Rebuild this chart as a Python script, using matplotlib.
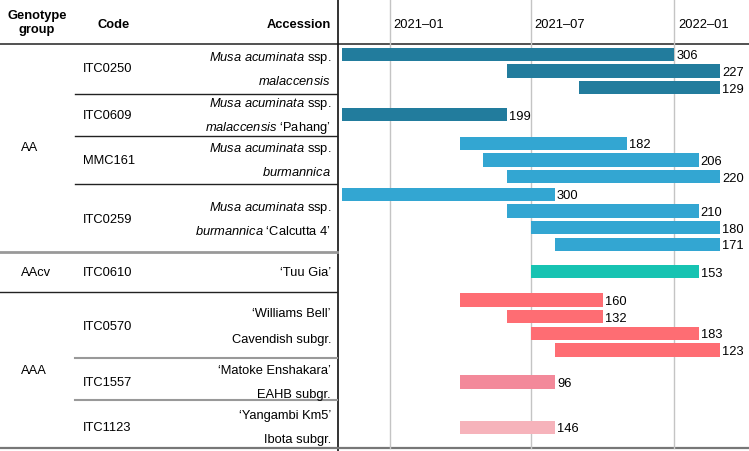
import matplotlib
matplotlib.use('Agg')
import matplotlib.pyplot as plt
import matplotlib.dates as mdates
from matplotlib.transforms import ScaledTranslation
import numpy as np

plt.rcParams['font.family'] = ['Liberation Sans', 'DejaVu Sans']
plt.rcParams['mathtext.fontset'] = 'custom'
plt.rcParams['mathtext.rm'] = 'Liberation Sans'
plt.rcParams['mathtext.it'] = 'Liberation Sans:italic'
plt.rcParams['mathtext.bf'] = 'Liberation Sans:bold'

# ---------------- data ----------------
group_names = ['AA', 'AAcv', 'AAA']
codes = ['ITC0250', 'ITC0609', 'MMC161', 'ITC0259', 'ITC0610', 'ITC0570', 'ITC1557', 'ITC1123']
code_group = ['AA', 'AA', 'AA', 'AA', 'AAcv', 'AAA', 'AAA', 'AAA']
accession_line1 = [r'$\mathit{Musa\ acuminata}$ ssp.',
                   r'$\mathit{Musa\ acuminata}$ ssp.',
                   r'$\mathit{Musa\ acuminata}$ ssp.',
                   r'$\mathit{Musa\ acuminata}$ ssp.',
                   '‘Tuu Gia’',
                   '‘Williams Bell’',
                   '‘Matoke Enshakara’',
                   '‘Yangambi Km5’']
accession_line2 = [r'$\mathit{malaccensis}$',
                   r'$\mathit{malaccensis}$ ‘Pahang’',
                   r'$\mathit{burmannica}$',
                   r'$\mathit{burmannica}$ ‘Calcutta 4’',
                   '',
                   'Cavendish subgr.',
                   'EAHB subgr.',
                   'Ibota subgr.']

bar_code = (['ITC0250'] * 3 + ['ITC0609'] + ['MMC161'] * 3 + ['ITC0259'] * 4 +
            ['ITC0610'] + ['ITC0570'] * 4 + ['ITC1557'] + ['ITC1123'])
bar_start = ['2020-11-01', '2021-06-01', '2021-09-01',
             '2020-11-01',
             '2021-04-01', '2021-05-01', '2021-06-01',
             '2020-11-01', '2021-06-01', '2021-07-01', '2021-08-01',
             '2021-07-01',
             '2021-04-01', '2021-06-01', '2021-07-01', '2021-08-01',
             '2021-04-01',
             '2021-04-01']
bar_end = ['2022-01-01', '2022-03-01', '2022-03-01',
           '2021-06-01',
           '2021-11-01', '2022-02-01', '2022-03-01',
           '2021-08-01', '2022-02-01', '2022-03-01', '2022-03-01',
           '2022-02-01',
           '2021-10-01', '2021-10-01', '2022-02-01', '2022-03-01',
           '2021-08-01',
           '2021-08-01']
bar_value = [306, 227, 129, 199, 182, 206, 220, 300, 210, 180, 171, 153,
             160, 132, 183, 123, 96, 146]

tick_dates = ['2021-01-01', '2021-07-01', '2022-01-01']
tick_labels = ['2021–01', '2021–07', '2022–01']

code_colors = {'ITC0250': '#227c9d', 'ITC0609': '#227c9d',
               'MMC161': '#33a6d2', 'ITC0259': '#33a6d2',
               'ITC0610': '#17c3b2',
               'ITC0570': '#fe6d73', 'ITC1557': '#f3899a', 'ITC1123': '#f6b3bb'}

# ---------------- layout (pixel rows, top = 0) ----------------
W, H = 749, 452
header_y = 44.5
block_edges = [44.5, 94.5, 137, 185, 252.5, 293, 359, 401, 449]
bar_offset = [2.5, 0, 0, 1.5, 0, 0, 3, 3.5]
text_offset = [0, 0, 0, 1, 0, 1, 3, 3]
line_half = [12, 12, 12, 12, 12, 13, 12, 12]
bar_step = 16.7
bar_h = 13.3
axis_left, axis_right = 338, 747
fs = 9.3

fig = plt.figure(figsize=(W / 100, H / 100), dpi=100)
tab = fig.add_axes([0, 0, 1, 1])
tab.set_xlim(0, W)
tab.set_ylim(H, 0)
tab.axis('off')

ax = fig.add_axes([axis_left / W, 0, (axis_right - axis_left) / W, 1])
ax.set_ylim(H, 0)
ax.patch.set_visible(False)
ax.axis('off')

d2n = lambda s: mdates.date2num(np.datetime64(s))
x0 = d2n('2020-10-27')
x1 = d2n('2022-04-04')
ax.set_xlim(x0, x1)

# gridlines + tick labels
lbl_trans = ax.transData + ScaledTranslation(4 / 100, 0, fig.dpi_scale_trans)
for d, lab in zip(tick_dates, tick_labels):
    ax.axvline(d2n(d), ymin=(H - 449) / H, ymax=1, color='#c4c4c4', lw=1.0, zorder=0)
    ax.text(d2n(d), 25, lab, transform=lbl_trans, ha='left', va='center', fontsize=fs)

# bars
centers = [(a + b) / 2 for a, b in zip(block_edges[:-1], block_edges[1:])]
ys = []
for i, c in enumerate(codes):
    idx = [k for k, bc in enumerate(bar_code) if bc == c]
    n = len(idx)
    for j, k in enumerate(idx):
        ys.append((k, centers[i] + bar_offset[i] + (j - (n - 1) / 2) * bar_step))
ys = [y for _, y in sorted(ys)]

starts = np.array([d2n(s) for s in bar_start])
ends = np.array([d2n(s) for s in bar_end])
cols = [code_colors[c] for c in bar_code]
ax.barh(ys, ends - starts, left=starts, height=bar_h, color=cols, zorder=2)
val_trans = ax.transData + ScaledTranslation(2 / 100, 0, fig.dpi_scale_trans)
for y, e, v in zip(ys, ends, bar_value):
    ax.text(e, y + 1, str(v), transform=val_trans, ha='left', va='center', fontsize=fs)

# table lines
tab.plot([0, W], [header_y, header_y], color='#333333', lw=1.2)
tab.plot([337.5, 337.5], [0, H], color='#111111', lw=1.2)
tab.plot([0, W], [449, 449], color='#777777', lw=1.6)
for i in range(len(codes) - 1):
    yb = block_edges[i + 1]
    g_here, g_next = code_group[i], code_group[i + 1]
    if g_here != g_next:
        if g_here == 'AA':
            tab.plot([0, 337], [yb, yb], color='#999999', lw=2.0)
        else:
            tab.plot([0, 337], [yb, yb], color='#222222', lw=1.0)
    else:
        if g_here == 'AAA':
            tab.plot([75, 337], [yb, yb], color='#999999', lw=1.5)
        else:
            tab.plot([75, 337], [yb, yb], color='#222222', lw=1.0)

# headers
tab.text(37, 23, 'Genotype\ngroup', ha='center', va='center', fontsize=fs,
         fontweight='bold', linespacing=1.25)
tab.text(97, 25, 'Code', ha='left', va='center', fontsize=fs, fontweight='bold')
tab.text(331, 25, 'Accession', ha='right', va='center', fontsize=fs, fontweight='bold')

# group labels
for g in group_names:
    idx = [i for i, cg in enumerate(code_group) if cg == g]
    gy = (block_edges[idx[0]] + block_edges[idx[-1] + 1]) / 2
    tab.text(21, gy, g, ha='left', va='center', fontsize=fs)

# codes and accessions
for i, c in enumerate(codes):
    cy = centers[i] + text_offset[i]
    tab.text(83, cy, c, ha='left', va='center', fontsize=fs)
    if accession_line2[i]:
        tab.text(331, cy - line_half[i], accession_line1[i], ha='right', va='center', fontsize=fs)
        tab.text(331, cy + line_half[i], accession_line2[i], ha='right', va='center', fontsize=fs)
    else:
        tab.text(331, cy, accession_line1[i], ha='right', va='center', fontsize=fs)

fig.savefig('out.png', dpi=100)
